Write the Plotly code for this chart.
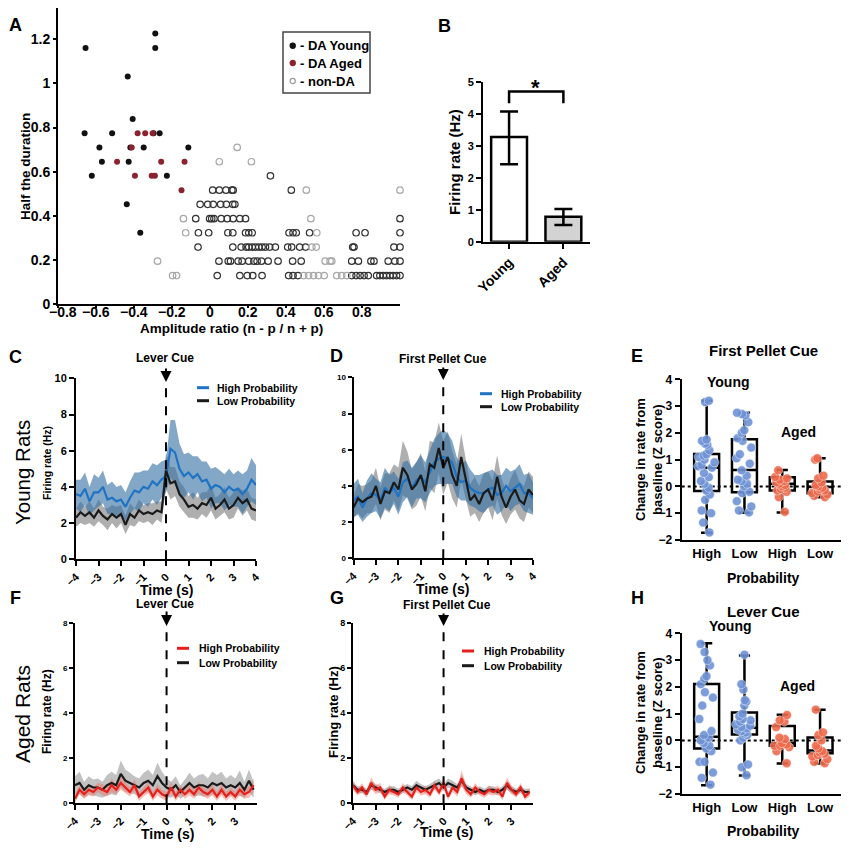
import numpy as np
import plotly.graph_objects as go

# The page body adds an 8 px margin on every side; a 833x834 figure makes the
# whole page exactly 849x850, so reference pixel positions map 1:1 (shifted by 8).
OFF = 8
W, H = 833, 834
FONT = "Liberation Sans, Arial, sans-serif"

def fx(px):
    return (px - OFF) / W

def fy(py):
    return 1 - (py - OFF) / H

# ---------------- Panel A data ----------------
a_young_x = [-0.655, -0.288, -0.288, -0.433, -0.407, -0.66, -0.515, -0.297, -0.265, -0.582,
             -0.419, -0.349, -0.114, -0.569, -0.428, -0.622, -0.227, -0.438, -0.367]
a_young_y = [1.161, 1.226, 1.161, 1.032, 0.839, 0.774, 0.774, 0.774, 0.774, 0.710,
             0.710, 0.710, 0.710, 0.645, 0.645, 0.581, 0.581, 0.452, 0.323]
a_aged_x = [-0.381, -0.341, -0.302, -0.412, -0.489, -0.257, -0.134, -0.395, -0.307, -0.29, -0.150]
a_aged_y = [0.774, 0.774, 0.774, 0.710, 0.645, 0.645, 0.645, 0.581, 0.581, 0.581, 0.516]

a_non_light_x = [0.143, 0.049, 0.218, 0.507, 1.0, -0.14, 0.531, -0.128, 0.562, 0.536, 0.559,
                 -0.276, 0.606, 0.632, 0.641, -0.197, -0.176, 0.493, 0.519, 0.545, 0.571,
                 0.601, 0.667, 0.693, 0.72]
a_non_light_y = [0.710, 0.645, 0.645, 0.516, 0.516, 0.387, 0.387, 0.323, 0.323, 0.258, 0.258,
                 0.194, 0.194, 0.194, 0.194, 0.129, 0.129, 0.129, 0.129, 0.129, 0.129,
                 0.129, 0.129, 0.129, 0.129]

a_non_dark_x = [0.318,
                0.014, 0.049, 0.084, 0.115, 0.122, 0.428,
                -0.052, -0.012, 0.017, 0.056, 0.086, 0.12, 0.131,
                -0.075, -0.002, 0.009, 0.021, 0.059, 0.091, 0.122, 0.157, 0.187, 1.0,
                -0.061, -0.007, 0.094, 0.12, 0.187, 0.204, 0.222, 0.416, 0.437, 0.454, 0.524, 0.769, 0.816, 1.0,
                -0.063, 0.12, 0.164, 0.19, 0.204, 0.222, 0.239, 0.257, 0.274, 0.292, 0.314, 0.344, 0.409, 0.43,
                0.472, 0.503, 0.751, 0.758, 0.968, 1.0,
                0.047, 0.096, 0.108, 0.148, 0.169, 0.204, 0.231, 0.248, 0.271, 0.306, 0.358, 0.435, 0.48,
                0.746, 0.781, 0.847, 0.863, 0.938, 0.973, 1.0,
                0.038, 0.157, 0.196, 0.225, 0.274, 0.414, 0.437, 0.463, 0.746, 0.769, 0.79, 0.811, 0.833,
                0.877, 0.894, 0.912, 0.929, 0.947, 0.964, 0.982, 1.0]
a_non_dark_y = ([0.581] + [0.516] * 6 + [0.452] * 7 + [0.387] * 10 + [0.323] * 14 +
                [0.258] * 20 + [0.194] * 20 + [0.129] * 21)

a_xticks = [-0.8, -0.6, -0.4, -0.2, 0, 0.2, 0.4, 0.6, 0.8]
a_xticklabels = ["\u22120.8", "\u22120.6", "\u22120.4", "\u22120.2", "0", "0.2", "0.4", "0.6", "0.8"]
a_yticks = [0, 0.2, 0.4, 0.6, 0.8, 1, 1.2]

# ---------------- Panel B data ----------------
b_groups = ["Young", "Aged"]
b_means = [3.27, 0.78]
b_err_up = [0.80, 0.24]
b_err_down = [0.85, 0.26]

# ---------------- Time series (C, D, F, G) ----------------
time41 = [-4.0, -3.8, -3.6, -3.4, -3.2, -3.0, -2.8, -2.6, -2.4, -2.2, -2.0, -1.8, -1.6, -1.4,
          -1.2, -1.0, -0.8, -0.6, -0.4, -0.2, 0.0, 0.2, 0.4, 0.6, 0.8, 1.0, 1.2, 1.4, 1.6, 1.8,
          2.0, 2.2, 2.4, 2.6, 2.8, 3.0, 3.2, 3.4, 3.6, 3.8, 4.0]
time40 = time41[:40]

c_high = [3.6, 3.5, 3.9, 3.2, 3.7, 3.7, 4.0, 3.3, 3.4, 3.2, 3.3, 2.9, 3.4, 3.8, 3.7, 4.0, 3.9, 4.3,
          4.1, 4.4, 4.6, 6.1, 5.9, 5.0, 4.6, 4.8, 4.5, 4.7, 4.3, 4.4, 3.9, 4.1, 4.0, 3.7, 4.0, 3.8,
          3.9, 3.6, 3.9, 4.4, 4.1]
c_high_sem = [0.8, 0.9, 0.9, 0.8, 1.0, 0.8, 0.9, 0.8, 0.9, 0.8, 0.8, 0.8, 0.9, 1.0, 1.1, 0.9, 1.0,
              1.0, 1.1, 1.0, 0.9, 1.6, 1.8, 1.4, 1.2, 1.1, 1.2, 1.0, 1.1, 1.0, 1.1, 1.0, 0.9, 1.0,
              1.0, 0.9, 1.0, 1.1, 1.0, 1.2, 1.1]
c_low = [2.3, 2.6, 2.4, 2.6, 2.3, 2.7, 2.4, 2.2, 2.5, 2.3, 2.5, 1.9, 2.5, 2.3, 2.7, 2.5, 2.6, 2.5,
         2.7, 2.6, 4.9, 4.2, 4.3, 3.6, 3.3, 2.9, 3.0, 2.8, 3.1, 3.0, 3.4, 2.8, 3.0, 3.3, 2.8, 3.0,
         3.4, 3.1, 3.3, 2.8, 2.7]
c_low_sem = [0.5, 0.6, 0.5, 0.6, 0.5, 0.6, 0.5, 0.6, 0.5, 0.6, 0.5, 0.5, 0.6, 0.5, 0.6, 0.5, 0.5,
             0.6, 0.5, 0.6, 1.0, 0.9, 0.8, 0.7, 0.7, 0.6, 0.7, 0.6, 0.6, 0.7, 0.7, 0.6, 0.6, 0.7,
             0.6, 0.7, 0.6, 0.7, 0.6, 0.6, 0.6]

d_high = [3.2, 3.4, 2.8, 3.3, 3.6, 3.5, 3.2, 3.9, 3.6, 3.9, 3.4, 4.2, 4.4, 3.9, 4.3, 4.5, 4.2, 4.8,
          5.3, 5.5, 5.6, 5.5, 5.3, 4.5, 4.2, 4.3, 3.9, 3.7, 3.6, 3.6, 3.8, 3.9, 3.5, 3.6, 4.0, 3.7,
          3.9, 4.1, 3.6, 3.6, 3.3]
d_high_sem = [0.9, 1.0, 0.8, 1.0, 1.1, 0.9, 1.0, 1.1, 1.0, 0.9, 1.0, 1.1, 1.0, 1.1, 1.0, 1.2, 1.1,
              1.2, 1.3, 1.4, 1.5, 1.4, 1.2, 1.1, 1.0, 1.1, 1.0, 0.9, 1.0, 1.1, 1.0, 1.0, 1.1, 1.0,
              1.0, 1.1, 1.0, 1.1, 1.0, 1.1, 0.9]
d_low = [2.8, 3.3, 3.1, 3.3, 3.4, 4.0, 3.0, 3.7, 3.6, 4.2, 3.8, 5.0, 4.6, 3.8, 4.1, 4.6, 3.7, 5.2,
         5.0, 6.1, 5.0, 5.6, 4.6, 4.0, 5.6, 4.4, 3.2, 3.5, 3.0, 3.6, 3.8, 3.2, 4.5, 3.4, 2.8, 3.4,
         3.8, 3.2, 3.0, 3.8, 3.5]
d_low_sem = [0.6, 0.8, 0.9, 0.8, 0.9, 1.0, 0.9, 1.0, 1.1, 1.0, 1.2, 1.5, 1.3, 1.1, 1.2, 1.2, 1.1,
             1.3, 1.4, 1.4, 1.5, 1.4, 1.3, 1.2, 1.3, 1.1, 0.9, 1.0, 1.0, 1.1, 1.0, 1.1, 1.2, 1.0,
             0.9, 1.0, 1.1, 1.0, 1.0, 1.0, 1.0]

f_high = [0.2, 0.6, 0.4, 0.6, 0.5, 0.7, 0.6, 0.5, 0.8, 0.6, 0.9, 0.7, 0.5, 0.8, 0.3, 0.5, 0.7, 0.3,
          0.6, 0.4, 0.3, 0.7, 0.3, 0.6, 0.4, 0.6, 0.4, 0.7, 0.5, 0.4, 0.6, 0.3, 0.6, 0.3, 0.5, 0.3,
          0.6, 0.4, 0.5, 0.8]
f_high_sem = [0.2, 0.2, 0.2, 0.25, 0.2, 0.2, 0.25, 0.2, 0.3, 0.2, 0.3, 0.25, 0.2, 0.25, 0.2, 0.2,
              0.25, 0.2, 0.25, 0.2, 0.2, 0.25, 0.2, 0.2, 0.2, 0.25, 0.2, 0.25, 0.2, 0.2, 0.25, 0.2,
              0.25, 0.2, 0.2, 0.2, 0.25, 0.2, 0.25, 0.3]
f_low = [0.8, 0.9, 0.6, 0.8, 0.7, 0.7, 0.6, 0.8, 0.9, 0.8, 1.3, 1.0, 0.9, 0.8, 0.7, 0.9, 1.0, 0.8,
         1.2, 0.9, 0.7, 0.6, 0.8, 0.5, 0.7, 0.9, 0.7, 0.8, 0.8, 0.7, 0.9, 0.8, 0.9, 0.7, 0.8, 0.7,
         0.9, 0.6, 1.0, 0.6]
f_low_sem = [0.4, 0.5, 0.35, 0.4, 0.35, 0.4, 0.35, 0.45, 0.5, 0.45, 0.6, 0.5, 0.45, 0.4, 0.4, 0.45,
             0.5, 0.45, 0.6, 0.5, 0.4, 0.35, 0.4, 0.3, 0.35, 0.45, 0.4, 0.45, 0.5, 0.4, 0.5, 0.45,
             0.5, 0.4, 0.45, 0.4, 0.55, 0.35, 0.5, 0.35]

g_high = [0.8, 0.5, 0.7, 0.4, 0.9, 0.6, 0.7, 0.3, 0.6, 0.5, 0.4, 0.7, 0.5, 0.3, 0.7, 0.5, 0.6, 0.4,
          0.8, 0.5, 0.9, 0.3, 0.7, 0.5, 1.1, 0.6, 0.4, 0.7, 0.5, 0.4, 0.6, 0.5, 0.6, 0.3, 0.9, 0.6,
          0.4, 0.7, 0.3, 0.5]
g_high_sem = [0.2, 0.15, 0.2, 0.15, 0.25, 0.2, 0.2, 0.15, 0.2, 0.15, 0.15, 0.2, 0.15, 0.15, 0.2,
              0.15, 0.2, 0.15, 0.2, 0.15, 0.25, 0.15, 0.2, 0.2, 0.35, 0.2, 0.15, 0.2, 0.15, 0.15,
              0.2, 0.15, 0.2, 0.15, 0.25, 0.2, 0.15, 0.2, 0.15, 0.2]
g_low = [0.8, 0.6, 0.6, 0.5, 0.8, 0.7, 0.6, 0.5, 0.6, 0.6, 0.5, 0.6, 0.7, 0.6, 0.8, 0.7, 0.6, 0.7,
         0.8, 0.9, 0.7, 0.9, 0.8, 0.7, 1.0, 0.7, 0.6, 0.5, 0.6, 0.5, 0.6, 0.6, 0.5, 0.6, 0.8, 0.6,
         0.5, 0.6, 0.5, 0.5]
g_low_sem = [0.15, 0.15, 0.15, 0.15, 0.2, 0.15, 0.15, 0.15, 0.15, 0.15, 0.15, 0.15, 0.15, 0.15,
             0.2, 0.15, 0.15, 0.15, 0.2, 0.2, 0.15, 0.2, 0.2, 0.15, 0.25, 0.15, 0.15, 0.15, 0.15,
             0.15, 0.15, 0.15, 0.15, 0.15, 0.2, 0.15, 0.15, 0.15, 0.15, 0.15]

# ---------------- Box plots (E, H) ----------------
box_labels = ["High", "Low", "High", "Low"]

e_points = [
    [3.2, 3.15, 1.75, 1.7, 1.6, 1.55, 1.35, 1.2, 1.15, 1.1, 1.0, 0.9, 0.8, 0.75, 0.7, 0.5, 0.35,
     0.2, 0.1, -0.05, -0.15, -0.3, -0.5, -0.9, -1.0, -1.35, -1.72],
    [2.75, 2.7, 2.65, 2.4, 2.1, 2.0, 1.8, 1.7, 1.45, 1.2, 1.05, 0.85, 0.6, 0.4, 0.25, 0.2, 0.1,
     0.0, -0.2, -0.25, -0.55, -0.75, -0.9, -0.97],
    [0.6, 0.35, 0.3, 0.25, 0.2, 0.15, 0.1, 0.05, 0.0, -0.05, -0.1, -0.15, -0.2, -0.4, -0.95],
    [1.05, 1.0, 0.4, 0.3, 0.15, 0.05, 0.0, -0.05, -0.1, -0.15, -0.2, -0.25, -0.3, -0.35, -0.4],
]
e_q1 = [-0.17, -0.22, -0.15, -0.25]
e_median = [0.70, 0.61, 0.10, -0.02]
e_q3 = [1.21, 1.76, 0.34, 0.18]
e_min = [-1.73, -0.98, -0.97, -0.40]
e_max = [3.20, 2.75, 0.61, 1.05]

h_points = [
    [3.6, 3.3, 3.0, 2.8, 2.4, 2.3, 2.1, 1.8, 1.6, 1.3, 0.8, 0.35, 0.2, 0.1, 0.0, -0.1, -0.2, -0.3,
     -0.4, -0.8, -0.8, -1.2, -1.4, -1.65],
    [3.2, 2.1, 1.9, 1.5, 1.45, 1.3, 1.0, 0.9, 0.8, 0.75, 0.7, 0.6, 0.55, 0.5, 0.45, 0.4, 0.35,
     0.3, 0.25, 0.2, 0.1, 0.0, -0.9, -1.0, -1.3],
    [0.95, 0.75, 0.7, 0.5, 0.1, 0.05, -0.1, -0.15, -0.2, -0.2, -0.25, -0.4, -0.85],
    [1.15, 0.3, 0.2, 0.0, -0.2, -0.3, -0.4, -0.45, -0.5, -0.55, -0.6, -0.7, -0.8, -0.85],
]
h_q1 = [-0.30, 0.22, -0.20, -0.48]
h_median = [0.14, 0.47, -0.10, -0.38]
h_q3 = [2.11, 1.04, 0.54, 0.11]
h_min = [-1.67, -1.31, -0.86, -0.86]
h_max = [3.63, 3.17, 0.96, 1.15]

# ---------------- colours ----------------
BLUE = "#1f73c2"
BLUE_BAND = "rgba(55,115,165,0.62)"
GRAY_BAND = "rgba(110,110,110,0.55)"
RED = "#e5201c"
RED_BAND = "rgba(240,110,95,0.45)"
BLACK = "#1a1a1a"
YOUNG_PT = "#6e93d6"
AGED_PT = "#ee6a4c"

fig = go.Figure()

# ---------- Panel A ----------
fig.add_trace(go.Scatter(x=a_non_dark_x, y=a_non_dark_y, mode="markers", xaxis="x", yaxis="y",
                         marker=dict(symbol="circle-open", size=6.5, color="#333333", line=dict(width=1.2)),
                         cliponaxis=False, showlegend=False))
fig.add_trace(go.Scatter(x=a_non_light_x, y=a_non_light_y, mode="markers", xaxis="x", yaxis="y",
                         marker=dict(symbol="circle-open", size=6.5, color="#a8a8a8", line=dict(width=1.2)),
                         cliponaxis=False, showlegend=False))
fig.add_trace(go.Scatter(x=a_young_x, y=a_young_y, mode="markers", xaxis="x", yaxis="y",
                         marker=dict(symbol="circle", size=6, color="#111111"),
                         cliponaxis=False, showlegend=False))
fig.add_trace(go.Scatter(x=a_aged_x, y=a_aged_y, mode="markers", xaxis="x", yaxis="y",
                         marker=dict(symbol="circle", size=6, color="#8b2230"),
                         cliponaxis=False, showlegend=False))

# ---------- Panel B ----------
fig.add_trace(go.Bar(x=[0, 1], y=b_means, width=0.66, xaxis="x2", yaxis="y2",
                     marker=dict(color=["white", "#d3d3d3"], line=dict(color="black", width=2.5)),
                     error_y=dict(type="data", array=b_err_up, arrayminus=b_err_down,
                                  color="black", thickness=2.5, width=9),
                     showlegend=False))

# ---------- time series helper ----------
def add_series(t, mean, sem, line_color, band_color, xa, ya):
    m = np.array(mean)
    s = np.array(sem)
    up = (m + s).tolist()
    lo = (m - s).tolist()
    fig.add_trace(go.Scatter(x=list(t) + list(t)[::-1], y=up + lo[::-1], fill="toself",
                             fillcolor=band_color, line=dict(width=0), mode="lines",
                             xaxis=xa, yaxis=ya, showlegend=False, hoverinfo="skip"))
    return (t, mean, line_color, xa, ya)

def add_line(spec):
    t, mean, col, xa, ya = spec
    fig.add_trace(go.Scatter(x=t, y=mean, mode="lines", line=dict(color=col, width=2.2),
                             xaxis=xa, yaxis=ya, showlegend=False))

# C
s1 = add_series(time41, c_low, c_low_sem, BLACK, GRAY_BAND, "x3", "y3")
s2 = add_series(time41, c_high, c_high_sem, BLUE, BLUE_BAND, "x3", "y3")
add_line(s2); add_line(s1)
# D
s1 = add_series(time41, d_low, d_low_sem, BLACK, GRAY_BAND, "x4", "y4")
s2 = add_series(time41, d_high, d_high_sem, BLUE, BLUE_BAND, "x4", "y4")
add_line(s2); add_line(s1)
# F
s1 = add_series(time40, f_low, f_low_sem, BLACK, "rgba(120,120,120,0.45)", "x6", "y6")
s2 = add_series(time40, f_high, f_high_sem, RED, RED_BAND, "x6", "y6")
add_line(s1); add_line(s2)
# G
s1 = add_series(time40, g_low, g_low_sem, BLACK, "rgba(120,120,120,0.45)", "x7", "y7")
s2 = add_series(time40, g_high, g_high_sem, RED, RED_BAND, "x7", "y7")
add_line(s1); add_line(s2)

# ---------- box panels ----------
def add_boxes(points, q1, med, q3, lo, hi, xa, ya):
    pos = list(range(len(points)))
    fig.add_trace(go.Box(x=pos, q1=q1, median=med, q3=q3, lowerfence=lo, upperfence=hi,
                         xaxis=xa, yaxis=ya, width=0.66, whiskerwidth=0.45,
                         fillcolor="rgba(0,0,0,0)", line=dict(color="black", width=2.5),
                         boxpoints=False, showlegend=False))
    for i, pts in enumerate(points):
        col = YOUNG_PT if i < 2 else AGED_PT
        fig.add_trace(go.Box(x=[pos[i]] * len(pts), y=pts, xaxis=xa, yaxis=ya, width=0.66,
                             boxpoints="all", jitter=0.75, pointpos=0,
                             fillcolor="rgba(0,0,0,0)", line=dict(color="rgba(0,0,0,0)", width=0),
                             marker=dict(color=col, size=9, opacity=0.9,
                                         line=dict(color="rgba(255,255,255,0.6)", width=0.8)),
                             showlegend=False))

add_boxes(e_points, e_q1, e_median, e_q3, e_min, e_max, "x5", "y5")
add_boxes(h_points, h_q1, h_median, h_q3, h_min, h_max, "x8", "y8")

# ---------- axes ----------
def ax(size, dom, anchor, **kw):
    d = dict(domain=dom, anchor=anchor, showline=True, linewidth=2, linecolor="black",
             ticks="outside", ticklen=5, tickwidth=2, tickcolor="black", showgrid=False,
             zeroline=False, fixedrange=True, automargin=False,
             tickfont=dict(family=FONT, size=size, color="black", weight="bold"))
    d.update(kw)
    return d

layout = dict(
    width=W, height=H, margin=dict(l=0, r=0, t=0, b=0, pad=0, autoexpand=False),
    paper_bgcolor="white", plot_bgcolor="rgba(0,0,0,0)",
    font=dict(family=FONT, color="black"),
    boxmode="overlay", showlegend=False,
)
# A  (y: 0 at 304 px, 220.6 px per unit; axis top limited to the page area)
layout["xaxis"] = ax(14, [fx(58), fx(400)], "y", range=[-0.8, 1.0], tickvals=a_xticks, ticklen=2,
                     showticklabels=False)
layout["yaxis"] = ax(14, [fy(304), fy(8)], "x", range=[0, 1.342], tickvals=a_yticks, ticklen=3)
# B
layout["xaxis2"] = ax(14, [fx(483), fx(590)], "y2", range=[-0.48, 1.49], tickvals=[0, 1],
                      ticktext=b_groups, tickangle=-45)
layout["yaxis2"] = ax(11, [fy(241.7), fy(81.7)], "x2", range=[0, 5], tickvals=[0, 1, 2, 3, 4, 5])
# C
tv = [-4, -3, -2, -1, 0, 1, 2, 3, 4]
layout["xaxis3"] = ax(11, [fx(76), fx(256)], "y3", range=[-4, 4], tickvals=tv, tickangle=-45)
layout["yaxis3"] = ax(11, [fy(559.3), fy(378.3)], "x3", range=[0, 10], tickvals=[0, 2, 4, 6, 8, 10])
# D
layout["xaxis4"] = ax(11, [fx(353.5), fx(533)], "y4", range=[-4, 4], tickvals=tv, tickangle=-45)
layout["yaxis4"] = ax(8, [fy(558.3), fy(377.3)], "x4", range=[0, 10], tickvals=[0, 2, 4, 6, 8, 10],
                      ticklen=4)
# E (right end limited to the page area)
layout["xaxis5"] = ax(13, [fx(681.7), fx(841)], "y5", range=[-0.66, 3.554], tickvals=[0, 1, 2, 3],
                      ticktext=box_labels, ticks="")
layout["yaxis5"] = ax(12, [fy(540), fy(379.3)], "x5", range=[-2, 4], tickvals=[-2, -1, 0, 1, 2, 3, 4])
# F
tv2 = [-4, -3, -2, -1, 0, 1, 2, 3]
layout["xaxis6"] = ax(11, [fx(75), fx(257)], "y6", range=[-4, 3.95], tickvals=tv2, tickangle=-45)
layout["yaxis6"] = ax(8, [fy(803.3), fy(622.7)], "x6", range=[0, 8], tickvals=[0, 2, 4, 6, 8], ticklen=4)
# G
layout["xaxis7"] = ax(11, [fx(353), fx(533)], "y7", range=[-4, 3.95], tickvals=tv2, tickangle=-45)
layout["yaxis7"] = ax(9, [fy(803.3), fy(622.7)], "x7", range=[0, 8], tickvals=[0, 2, 4, 6, 8], ticklen=4)
# H
layout["xaxis8"] = ax(13, [fx(681.7), fx(841)], "y8", range=[-0.66, 3.554], tickvals=[0, 1, 2, 3],
                      ticktext=box_labels, ticks="")
layout["yaxis8"] = ax(12, [fy(794), fy(633.3)], "x8", range=[-2, 4], tickvals=[-2, -1, 0, 1, 2, 3, 4])

fig.update_layout(**layout)

# ---------- annotations ----------
ann = []

def txt(px, py, text, size, bold=True, angle=0, xanchor="center", yanchor="middle", color="black"):
    ann.append(dict(x=fx(px), y=fy(py), xref="paper", yref="paper", text=text, showarrow=False,
                    textangle=angle, xanchor=xanchor, yanchor=yanchor,
                    font=dict(family=FONT, size=size, color=color,
                              weight="bold" if bold else "normal")))

# panel A x tick labels, set tight under the axis as in the reference
for v, lab in zip(a_xticks, a_xticklabels):
    ann.append(dict(x=v, y=fy(312), xref="x", yref="paper", text=lab, showarrow=False,
                    xanchor="center", yanchor="middle", xshift=5 if v == a_xticks[0] else 0,
                    font=dict(family=FONT, size=14, color="black", weight="bold")))

# panel letters
for L, px, py in [("A", 15, 25), ("B", 444, 26), ("C", 15, 357), ("D", 336, 356), ("E", 637, 356),
                  ("F", 15, 598), ("G", 337, 598), ("H", 637, 598)]:
    txt(px, py, L, 18, xanchor="center")

# A titles
txt(231, 328, "Amplitude ratio (n - p / n + p)", 13.5)
txt(25, 167, "Half the duration", 13.5, angle=-90)
# B title
txt(455, 162, "Firing rate (Hz)", 15, angle=-90)
# C/D
txt(165, 358, "Lever Cue", 12)
txt(443, 359, "First Pellet Cue", 12)
txt(47, 463, "Firing rate (Hz)", 10.5, angle=-90)
txt(166, 590, "Time (s)", 14)
txt(443, 589, "Time (s)", 14)
txt(22, 473, "Young Rats", 20.5, bold=False, angle=-90)
# F/G
txt(165, 604, "Lever Cue", 12)
txt(447, 605, "First Pellet Cue", 12)
txt(47, 712, "Firing rate (Hz)", 12, angle=-90)
txt(333, 712, "Firing rate (Hz)", 13, angle=-90)
txt(167, 834, "Time (s)", 14)
txt(447, 832, "Time (s)", 14)
txt(22, 714, "Aged Rats", 21, bold=False, angle=-90)
# E/H
txt(763, 350, "First Pellet Cue", 15)
txt(728, 382, "Young", 14)
txt(798, 432, "Aged", 14)
txt(649, 460, "Change in rate from<br>baseline (Z score)", 13, angle=-90)
txt(763, 578, "Probability", 14)
txt(763, 611, "Lever Cue", 15)
txt(730, 626, "Young", 14)
txt(797, 686, "Aged", 14)
txt(649, 713, "Change in rate from<br>baseline (Z score)", 13, angle=-90)
txt(763, 831, "Probability", 14)

# legends text
txt(298, 45.7, "- DA Young", 13, xanchor="left")
txt(298, 63, "- DA Aged", 13, xanchor="left")
txt(298, 81, "- non-DA", 13, xanchor="left")
txt(215, 387.7, "High Probability", 10.5, xanchor="left")
txt(215, 400.7, "Low Probability", 10.5, xanchor="left")
txt(499, 393.7, "High Probability", 10.5, xanchor="left")
txt(499, 406.7, "Low Probability", 10.5, xanchor="left")
txt(197, 648.3, "High Probability", 10.5, xanchor="left")
txt(197, 662.7, "Low Probability", 10.5, xanchor="left")
txt(482, 651, "High Probability", 10.5, xanchor="left")
txt(482, 665.7, "Low Probability", 10.5, xanchor="left")

# significance star (paper coords so it is not hidden outside the y range)
txt(535, 88, "*", 22)

# arrows at cue onset
for xa, ya, ytip, ay in [("x3", "y3", 9.8, -15), ("x4", "y4", 9.85, -14),
                         ("x6", "y6", 7.85, -16), ("x7", "y7", 7.85, -14)]:
    ann.append(dict(x=0, y=ytip, xref=xa, yref=ya, ax=0, ay=ay, text="", showarrow=True,
                    arrowhead=2, arrowsize=1.1, arrowwidth=2, arrowcolor="black"))

fig.update_layout(annotations=ann)

# ---------- shapes ----------
shapes = []
# A legend box
shapes.append(dict(type="rect", xref="paper", yref="paper", x0=fx(283), x1=fx(370), y0=fy(93), y1=fy(32),
                   line=dict(color="#444", width=1.5), fillcolor="rgba(0,0,0,0)"))
def circ(cx, cy, r, fill, line):
    shapes.append(dict(type="circle", xref="paper", yref="paper", x0=fx(cx - r), x1=fx(cx + r),
                       y0=fy(cy + r), y1=fy(cy - r), fillcolor=fill,
                       line=dict(color=line, width=1.2)))
circ(292.7, 45.7, 2.6, "#111111", "#111111")
circ(292.7, 63, 2.6, "#8b2230", "#8b2230")
circ(292.7, 81, 2.6, "rgba(0,0,0,0)", "#999999")

def lline(x0, x1, y, col):
    shapes.append(dict(type="line", xref="paper", yref="paper", x0=fx(x0), x1=fx(x1), y0=fy(y), y1=fy(y),
                       line=dict(color=col, width=3)))
lline(197, 209, 387.7, BLUE); lline(197, 209, 400.7, BLACK)
lline(480, 492, 393.7, BLUE); lline(480, 492, 406.7, BLACK)
lline(177, 189, 648.3, RED); lline(177, 189, 662.7, BLACK)
lline(462, 474, 651, RED); lline(462, 474, 665.7, BLACK)

# B bracket
shapes.append(dict(type="path", xref="x2", yref="y2", path="M 0,4.33 L 0,4.69 L 1,4.69 L 1,4.33",
                   line=dict(color="black", width=2.5)))

# dashed cue lines
for xa, ya, ytop in [("x3", "y3", 9.8), ("x4", "y4", 9.85), ("x6", "y6", 7.85), ("x7", "y7", 7.85)]:
    shapes.append(dict(type="line", xref=xa, yref=ya, x0=0, x1=0, y0=0, y1=ytop,
                       line=dict(color="black", width=2, dash="dash"), layer="above"))

# dotted zero lines E/H
for xa, ya in [("x5", "y5"), ("x8", "y8")]:
    shapes.append(dict(type="line", xref=xa + " domain", yref=ya, x0=0, x1=1, y0=0, y1=0,
                       line=dict(color="black", width=2, dash="dot"), layer="below"))

fig.update_layout(shapes=shapes)

fig.write_html("out.html")
